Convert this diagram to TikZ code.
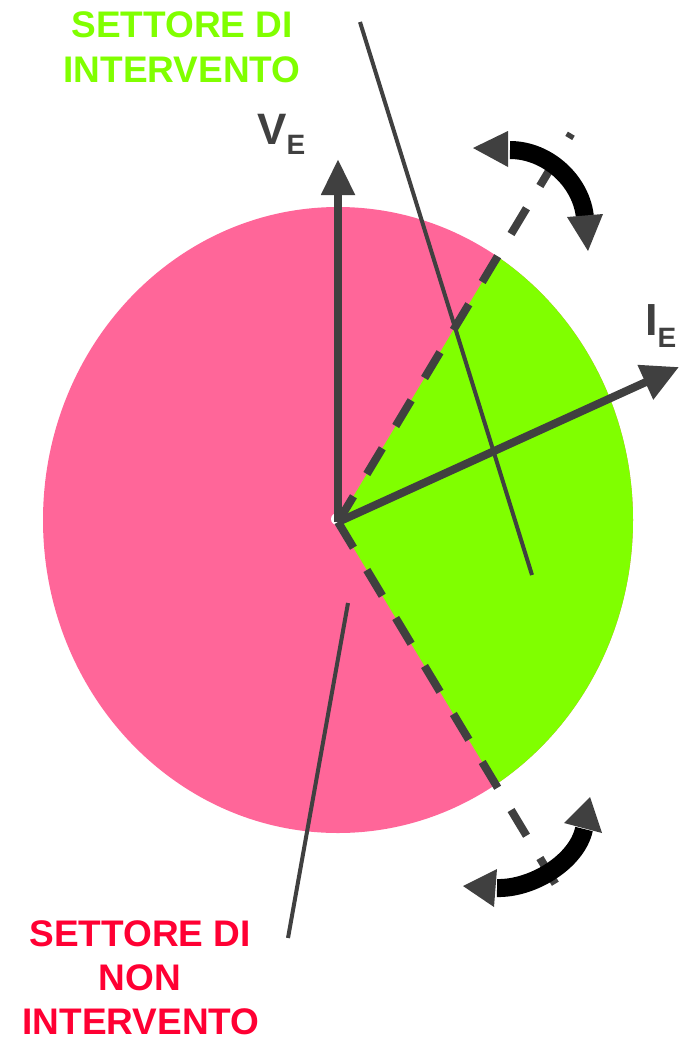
\documentclass[tikz,border=0pt]{standalone}
\usepackage{fontspec}
\setmainfont{Liberation Sans}
\usetikzlibrary{arrows.meta,calc}
\definecolor{pinkc}{RGB}{255,102,153}
\definecolor{greenc}{RGB}{128,255,0}
\definecolor{redc}{RGB}{255,0,51}
\definecolor{grayc}{RGB}{64,64,64}
\begin{document}
\begin{tikzpicture}[x=1pt,y=-1pt,
  vec/.style={draw=grayc, line width=8pt},
  dashln/.style={draw=grayc, line width=8pt, dash pattern=on 30pt off 26pt},
  thinln/.style={draw=grayc, line width=4pt},
  swing/.style={draw=black, line width=18pt},
  tipc/.style={fill=grayc},
  lbl/.style={inner sep=0pt, anchor=base, font=\bfseries\fontsize{37}{37}\selectfont},
  sym/.style={inner sep=0pt, anchor=base west, text=grayc, font=\bfseries}
]
\useasboundingbox (0,0) rectangle (683,1039);
\coordinate (O) at (338,522);
\coordinate (C) at (338,520);
% sectors
\fill[pinkc] (C) ellipse [x radius=295, y radius=313];
\begin{scope}
  \clip (C) ellipse [x radius=295, y radius=313];
  \fill[greenc] (O) -- ($(O)+(-59:800)$) -- (1200,522) -- ($(O)+(59:800)$) -- cycle;
\end{scope}
% thin lines
\coordinate (A1) at (360,22);
\coordinate (A2) at (532,575);
\coordinate (B1) at (348,603);
\coordinate (B2) at (288,938);
\draw[thinln] (A1) -- (A2);
\draw[thinln] (B1) -- (B2);
% dashed boundaries
\coordinate (U) at ($(O)+(-59:453)$);
\coordinate (D) at ($(O)+(59:425)$);
\fill[white] (337,519) circle [radius=6];
\draw[dashln] (O) -- (U);
\draw[dashln] (O) -- (D);
% vectors
\coordinate (VT) at (338,159);
\coordinate (IT) at (679,367);
\draw[vec, -{Triangle[length=36pt,width=32pt]}] (O) -- (VT);
\draw[vec, -{Triangle[length=37pt,width=36pt]}] (O) -- (IT);
% swing arrows
\draw[swing] (510,150) .. controls (548,150) and (582,182) .. (585,218);
\fill[tipc] (473,148) -- (508,131) -- (508,167) -- cycle;
\fill[tipc] (588,251) -- (567,217) -- (603,214) -- cycle;
\draw[swing] (497,888) .. controls (532,889) and (577,862) .. (584,829);
\fill[tipc] (463,886) -- (497,869) -- (494,907) -- cycle;
\fill[tipc] (590,797) -- (564,823) -- (602,833) -- cycle;
% labels
\node[lbl, text=greenc] (t1) at (182,37) {SETTORE DI};
\node[lbl, text=greenc] (t2) at (182,82) {INTERVENTO};
\node[lbl, text=redc] (b1) at (140,946) {SETTORE DI};
\node[lbl, text=redc] (b2) at (140,990) {NON};
\node[lbl, text=redc] (b3) at (141,1034) {INTERVENTO};
\node[sym] (vl) at (257,144) {\fontsize{44}{44}\selectfont V\raisebox{-10pt}{\fontsize{28}{28}\selectfont E}};
\node[sym] (il) at (645,335) {\fontsize{45}{45}\selectfont I\raisebox{-12pt}{\fontsize{28}{28}\selectfont E}};
\end{tikzpicture}
\end{document}
